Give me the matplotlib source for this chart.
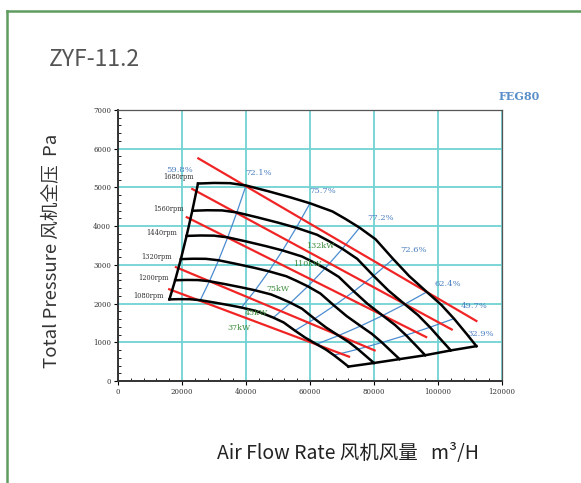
import matplotlib.pyplot as plt
from matplotlib.lines import Line2D
from matplotlib.ticker import MultipleLocator

# fan curves (flow m3/H, pressure Pa)
rpm_labels = ["1680rpm", "1560rpm", "1440rpm", "1320rpm", "1200rpm", "1080rpm"]

flow_1680 = [25000, 30000, 35000, 40000, 47000, 54000, 60000, 67000, 71000, 75500, 80500, 86000, 91000, 96500, 101000, 105000, 109000, 112000]
pres_1680 = [5100, 5115, 5110, 5050, 4900, 4740, 4590, 4380, 4190, 3960, 3660, 3150, 2710, 2300, 1970, 1610, 1210, 900]

flow_1560 = [23214, 27857, 32500, 37143, 43643, 50143, 55714, 62214, 65929, 70107, 74750, 79857, 84500, 89607, 93786, 97500, 101214, 104000]
pres_1560 = [4397, 4410, 4406, 4354, 4225, 4087, 3958, 3777, 3613, 3415, 3156, 2716, 2337, 1983, 1699, 1388, 1043, 790]

flow_1440 = [21429, 25714, 30000, 34286, 40286, 46286, 51429, 57429, 60857, 64714, 69000, 73714, 78000, 82714, 86571, 90000, 93429, 96000]
pres_1440 = [3747, 3758, 3754, 3710, 3600, 3482, 3372, 3218, 3078, 2909, 2689, 2314, 1991, 1690, 1447, 1183, 889, 665]

flow_1320 = [19643, 23571, 27500, 31429, 36929, 42429, 47143, 52643, 55786, 59321, 63250, 67571, 71500, 75821, 79357, 82500, 85643, 88000]
pres_1320 = [3148, 3158, 3155, 3118, 3025, 2926, 2834, 2704, 2587, 2445, 2259, 1945, 1673, 1420, 1216, 994, 747, 565]

flow_1200 = [17857, 21429, 25000, 28571, 33571, 38571, 42857, 47857, 50714, 53929, 57500, 61429, 65000, 68929, 72143, 75000, 77857, 80000]
pres_1200 = [2602, 2610, 2607, 2577, 2500, 2418, 2342, 2235, 2138, 2020, 1867, 1607, 1383, 1173, 1005, 821, 617, 465]

flow_1080 = [16071, 19286, 22500, 25714, 30214, 34714, 38571, 43071, 45643, 48536, 51750, 55286, 58500, 62036, 64929, 67500, 70071, 72000]
pres_1080 = [2108, 2114, 2112, 2087, 2025, 1959, 1897, 1810, 1732, 1637, 1513, 1302, 1120, 951, 814, 665, 500, 372]

curves = [(flow_1680, pres_1680), (flow_1560, pres_1560), (flow_1440, pres_1440),
          (flow_1320, pres_1320), (flow_1200, pres_1200), (flow_1080, pres_1080)]

# efficiency lines: index of the point on each curve
eff_labels = ["59.8%", "72.1%", "75.7%", "77.2%", "72.6%", "62.4%", "49.7%", "32.9%"]
eff_idx = [3, 6, 9, 11, 13, 15]
eff_label_x = [19400, 44000, 63800, 81900, 92300, 103200, 111300, 113300]
eff_label_y = [5450, 5370, 4910, 4220, 3380, 2510, 1940, 1210]

# power lines (start, end)
power_x = [[25100, 112000], [23200, 104300], [21500, 96300], [18100, 80200], [16000, 72200]]
power_y = [[5750, 1550], [4960, 1330], [4230, 1135], [2940, 790], [2370, 628]]
power_labels = ["132kW", "110kW", "75kW", "45kW", "37kW"]
power_label_x = [63100, 59000, 50000, 43400, 37800]
power_label_y = [3490, 3010, 2380, 1750, 1380]

rpm_label_x = [23600, 20600, 18500, 16800, 15700, 14200]
rpm_label_y = [5260, 4440, 3815, 3210, 2650, 2195]

cjk = ["Noto Sans CJK SC", "DejaVu Sans"]
serif = "DejaVu Serif"

fig = plt.figure(figsize=(5.81, 4.83), dpi=100)
ax = fig.add_axes([0.2031, 0.2112, 0.6609, 0.5611])
ax.set_xlim(0, 120000)
ax.set_ylim(0, 7000)

ax.xaxis.set_major_locator(MultipleLocator(20000))
ax.xaxis.set_minor_locator(MultipleLocator(4000))
ax.yaxis.set_major_locator(MultipleLocator(1000))
ax.yaxis.set_minor_locator(MultipleLocator(200))
ax.grid(True, which="major", color="#72d2d2", lw=1.3)
ax.set_axisbelow(True)
ax.tick_params(which="major", direction="out", length=3, width=0.8, labelsize=5, pad=2)
ax.tick_params(which="minor", direction="in", length=2.5, width=0.6)
for lab in ax.get_xticklabels() + ax.get_yticklabels():
    lab.set_fontfamily(serif)
    lab.set_color("#333333")
for s in ["left", "bottom"]:
    ax.spines[s].set_linewidth(1.4)
    ax.spines[s].set_color("#333333")
for s in ["top", "right"]:
    ax.spines[s].set_linewidth(0.9)
    ax.spines[s].set_color("#555555")

# efficiency lines (blue)
for i in eff_idx:
    ax.plot([c[0][i] for c in curves], [c[1][i] for c in curves], color="#4b8ccf", lw=0.9, zorder=2)

# power lines (red)
for px, py in zip(power_x, power_y):
    ax.plot(px, py, color="#f02424", lw=1.6, zorder=3)

# fan curves
for fx, fy in curves:
    ax.plot(fx, fy, color="black", lw=1.8, zorder=4)
ax.plot([c[0][0] for c in curves], [c[1][0] for c in curves], color="black", lw=1.8, zorder=4)
ax.plot([c[0][-1] for c in curves], [c[1][-1] for c in curves], color="black", lw=1.8, zorder=4)

for lab, x, y in zip(rpm_labels, rpm_label_x, rpm_label_y):
    ax.text(x, y, lab, fontsize=4.8, family=serif, color="#333333", ha="right", va="center")
for lab, x, y in zip(eff_labels, eff_label_x, eff_label_y):
    ax.text(x, y, lab, fontsize=6, family=serif, color="#4a7fc0", ha="center", va="center")
for lab, x, y in zip(power_labels, power_label_x, power_label_y):
    ax.text(x, y, lab, fontsize=5.8, family=serif, color="#3c8c3c", ha="center", va="center", zorder=5)

fig.text(519 / 581, 1 - 97 / 483, "FEG80", fontsize=8, family=serif, color="#5b8fc9",
         ha="center", va="center", fontweight="bold")
fig.text(49 / 581, 1 - 60 / 483, "ZYF-11.2", fontsize=16.5, family=cjk, color="#555555",
         ha="left", va="center")
fig.text(51 / 581, 1 - 251 / 483, "Total Pressure 风机全压  Pa", fontsize=13.4, family=cjk,
         color="#333333", rotation=90, ha="center", va="center")
fig.text(348 / 581, 1 - 454 / 483, "Air Flow Rate 风机风量   m³/H", fontsize=14, family=cjk,
         color="#222222", ha="center", va="center")

# green frame
fig.add_artist(Line2D([7 / 581, 7 / 581], [0, 1 - 11 / 483], color="#5f9c5f", lw=1.8))
fig.add_artist(Line2D([7 / 581, 1], [1 - 11 / 483, 1 - 11 / 483], color="#5f9c5f", lw=1.8))

fig.savefig("out.png", dpi=100)
